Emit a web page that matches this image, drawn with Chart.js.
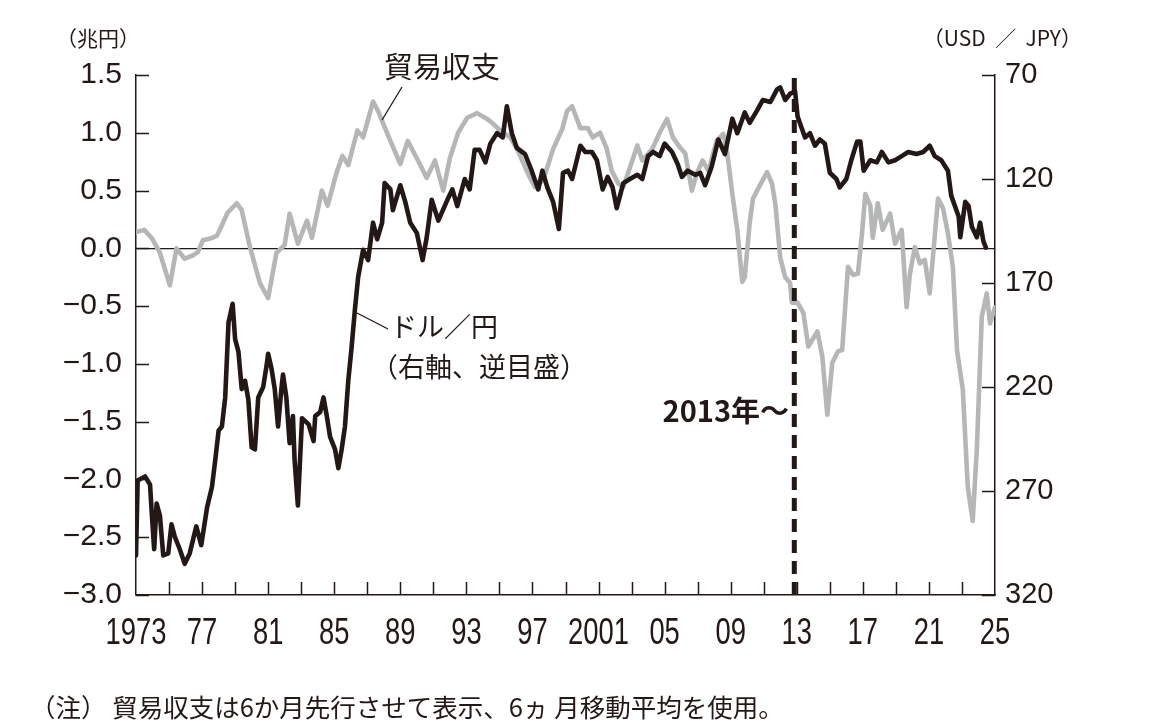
<!DOCTYPE html>
<html lang="ja">
<head>
<meta charset="utf-8">
<title>貿易収支とドル／円</title>
<script src="https://cdn.jsdelivr.net/npm/chart.js@4.4.1/dist/chart.umd.min.js"></script>
<style>
  html, body { margin: 0; padding: 0; background: #ffffff; }
  #wrap { width: 1174px; height: 723px; position: relative; }
</style>
</head>
<body>
<div id="wrap"><canvas id="grafica" width="1174" height="723"></canvas></div>
<script>
// 貿易収支（兆円、6か月先行・6ヵ月移動平均）: 年（小数）と値
const tradeYears = [
  1973.0, 1973.5, 1973.95, 1974.45, 1975.05, 1975.45, 1975.95, 1976.45, 1976.75, 1977.05,
  1977.6, 1977.9, 1978.2, 1978.55, 1979.1, 1979.4, 1979.9, 1980.5, 1981.0, 1981.5,
  1982.0, 1982.3, 1982.8, 1983.35, 1983.65, 1984.25, 1984.6, 1985.15, 1985.5, 1985.85,
  1986.4, 1986.75, 1987.35, 1987.65, 1987.9, 1988.4, 1989.0, 1989.45, 1990.0, 1990.6,
  1991.1, 1991.6, 1992.0, 1992.5, 1993.05, 1993.65, 1994.25, 1994.6, 1995.05, 1995.65,
  1996.1, 1996.65, 1997.15, 1997.65, 1998.25, 1998.8, 1999.1, 1999.4, 1999.9, 2000.35,
  2000.65, 2001.1, 2001.5, 2001.8, 2002.2, 2002.5, 2002.9, 2003.35, 2003.65, 2004.25,
  2004.7, 2005.15, 2005.5, 2005.95, 2006.25, 2006.65, 2006.95, 2007.3, 2007.65, 2008.15,
  2008.55, 2008.75, 2009.1, 2009.4, 2009.7, 2009.85, 2010.15, 2010.35, 2010.75, 2011.2,
  2011.5, 2011.7, 2012.0, 2012.3, 2012.6, 2012.7, 2013.05, 2013.4, 2013.7, 2014.25,
  2014.55, 2014.85, 2015.15, 2015.5, 2015.75, 2016.1, 2016.4, 2016.7, 2016.95, 2017.15,
  2017.45, 2017.6, 2017.9, 2018.2, 2018.65, 2018.95, 2019.35, 2019.65, 2019.85, 2020.15,
  2020.45, 2020.75, 2021.05, 2021.55, 2021.85, 2022.15, 2022.45, 2022.7, 2023.05, 2023.35,
  2023.65, 2023.9, 2024.2, 2024.5, 2024.7, 2025.0
];
const tradeValues = [
  0.14, 0.16, 0.09, -0.04, -0.32, 0.0, -0.09, -0.06, -0.03, 0.07,
  0.09, 0.11, 0.20, 0.31, 0.39, 0.33, 0.01, -0.30, -0.43, -0.04,
  0.03, 0.30, 0.04, 0.24, 0.09, 0.50, 0.37, 0.66, 0.80, 0.72,
  1.02, 0.96, 1.27, 1.19, 1.10, 0.93, 0.73, 0.93, 0.78, 0.61,
  0.76, 0.50, 0.78, 1.00, 1.13, 1.17, 1.12, 1.08, 1.02, 0.96,
  0.85, 0.67, 0.53, 0.59, 0.86, 1.03, 1.19, 1.23, 1.04, 1.04,
  0.96, 1.00, 0.86, 0.67, 0.56, 0.53, 0.70, 0.89, 0.76, 0.86,
  1.00, 1.12, 0.96, 0.87, 0.82, 0.50, 0.65, 0.76, 0.67, 0.93,
  0.99, 0.87, 0.47, 0.16, -0.29, -0.25, 0.22, 0.43, 0.54, 0.66,
  0.56, 0.39, -0.08, -0.25, -0.30, -0.47, -0.47, -0.56, -0.85, -0.72,
  -0.94, -1.44, -0.99, -0.89, -0.88, -0.16, -0.23, -0.22, 0.13, 0.47,
  0.37, 0.09, 0.39, 0.16, 0.30, 0.04, 0.16, -0.51, -0.22, 0.01,
  -0.13, -0.10, -0.39, 0.43, 0.35, 0.13, -0.16, -0.88, -1.22, -2.06,
  -2.36, -1.74, -0.59, -0.39, -0.65, -0.51
];

// ドル／円（右軸、逆目盛）
const fxYears = [
  1973.0, 1973.1, 1973.55, 1973.85, 1973.95, 1974.1, 1974.25, 1974.45, 1974.65, 1974.95,
  1975.15, 1975.35, 1975.65, 1975.95, 1976.25, 1976.65, 1976.95, 1977.3, 1977.6, 1977.8,
  1978.0, 1978.2, 1978.4, 1978.6, 1978.85, 1979.0, 1979.2, 1979.4, 1979.6, 1979.8,
  1980.0, 1980.2, 1980.4, 1980.7, 1980.9, 1981.0, 1981.2, 1981.4, 1981.6, 1981.8,
  1981.9, 1982.1, 1982.3, 1982.5, 1982.6, 1982.8, 1983.05, 1983.45, 1983.75, 1983.85,
  1984.15, 1984.35, 1984.55, 1984.75, 1985.05, 1985.25, 1985.45, 1985.65, 1985.85, 1986.05,
  1986.25, 1986.45, 1986.75, 1987.05, 1987.35, 1987.6, 1987.9, 1988.05, 1988.4, 1988.55,
  1989.0, 1989.3, 1989.6, 1990.0, 1990.35, 1990.6, 1990.9, 1991.3, 1991.85, 1992.15,
  1992.45, 1992.9, 1993.2, 1993.5, 1993.8, 1994.15, 1994.45, 1994.85, 1995.2, 1995.45,
  1995.75, 1996.05, 1996.55, 1996.95, 1997.35, 1997.6, 1997.9, 1998.25, 1998.6, 1998.85,
  1999.15, 1999.4, 1999.9, 2000.2, 2000.6, 2000.9, 2001.25, 2001.55, 2001.85, 2002.1,
  2002.5, 2002.9, 2003.35, 2003.65, 2004.0, 2004.3, 2004.7, 2005.0, 2005.45, 2005.8,
  2006.05, 2006.4, 2006.85, 2007.15, 2007.45, 2007.85, 2008.25, 2008.65, 2009.1, 2009.4,
  2009.85, 2010.15, 2010.6, 2010.95, 2011.4, 2011.8, 2012.0, 2012.3, 2012.6, 2012.9,
  2013.05, 2013.5, 2013.8, 2014.1, 2014.4, 2014.7, 2015.0, 2015.4, 2015.6, 2016.0,
  2016.3, 2016.65, 2016.85, 2017.05, 2017.45, 2017.85, 2018.15, 2018.55, 2018.95, 2019.35,
  2019.75, 2020.25, 2020.65, 2021.05, 2021.35, 2021.75, 2022.15, 2022.35, 2022.8, 2022.9,
  2023.2, 2023.4, 2023.6, 2023.9, 2024.1, 2024.3, 2024.45
];
const fxValues = [
  301, 265, 263, 267, 280, 298, 276, 282, 301, 300,
  286, 292, 298, 305, 300, 287, 296, 278, 268, 255,
  241, 239, 225, 189, 180, 197, 203, 221, 217, 226,
  249, 250, 225, 220, 210, 204, 211, 221, 239, 221,
  214, 225, 247, 234, 255, 277, 235, 238, 246, 234,
  232, 225, 234, 244, 250, 259, 250, 239, 217, 201,
  183, 167, 154, 159, 141, 149, 141, 122, 125, 135,
  123, 131, 141, 146, 159, 148, 130, 140, 130, 125,
  133, 120, 125, 106, 106, 112, 103, 98, 100, 85,
  98, 105, 108, 116, 125, 116, 124, 131, 144, 117,
  116, 120, 104, 107, 107, 111, 125, 119, 124, 134,
  122, 120, 118, 120, 109, 107, 109, 103, 107, 113,
  119, 116, 118, 117, 123, 114, 101, 108, 91, 98,
  88, 93, 87, 82, 83, 77, 76, 82, 79, 78,
  90, 100, 98, 104, 101, 103, 117, 120, 124, 120,
  111, 102, 102, 116, 111, 112, 107, 112, 111, 109,
  107, 108, 107, 104, 109, 111, 116, 128, 138, 148,
  131, 133, 143, 148, 141, 150, 153
];

// 目盛り
const xTickYears = [];
for (let y = 1973; y <= 2025; y += 2) xTickYears.push(y);
const xLabelYears = [1973, 1977, 1981, 1985, 1989, 1993, 1997, 2001, 2005, 2009, 2013, 2017, 2021, 2025];
const xLabelTexts = ['1973', '77', '81', '85', '89', '93', '97', '2001', '05', '09', '13', '17', '21', '25'];
const markerYear = 2012.85; // 2013年〜 の破線

const NEGRO = '#231815';
const GRIS = '#b5b6b6';
const SANS = '"Liberation Sans", "DejaVu Sans", sans-serif';
const JP = '"Noto Sans CJK JP", "Noto Sans", sans-serif';

// 軸の内向き目盛り線
const innerTicks = {
    id: 'innerTicks',
    beforeDatasetsDraw(chart) {
        const { ctx, chartArea: a, scales } = chart;
        const len = 13;
        ctx.save();
        ctx.strokeStyle = NEGRO;
        ctx.lineWidth = 1.5;
        ctx.beginPath();
        scales.y.ticks.forEach(t => {
            const py = Math.round(scales.y.getPixelForValue(t.value)) + 0.5;
            ctx.moveTo(a.left, py); ctx.lineTo(a.left + len, py);
        });
        scales.y2.ticks.forEach(t => {
            const py = Math.round(scales.y2.getPixelForValue(t.value)) + 0.5;
            ctx.moveTo(a.right, py); ctx.lineTo(a.right - len, py);
        });
        scales.x.ticks.forEach(t => {
            if (t.value === 1973 || t.value === 2025) return;
            const px = Math.round(scales.x.getPixelForValue(t.value)) + 0.5;
            ctx.moveTo(px, a.bottom); ctx.lineTo(px, a.bottom - len);
        });
        ctx.stroke();
        ctx.restore();
    }
};

// 年ラベル（長体）
const yearLabels = {
    id: 'yearLabels',
    afterDraw(chart) {
        const { ctx, scales } = chart;
        ctx.save();
        ctx.fillStyle = NEGRO;
        ctx.font = '37px ' + SANS;
        ctx.textAlign = 'center';
        ctx.textBaseline = 'middle';
        xLabelYears.forEach((yr, i) => {
            const px = scales.x.getPixelForValue(yr);
            ctx.save();
            ctx.translate(px, 634);
            ctx.scale(0.74, 1);
            ctx.fillText(xLabelTexts[i], 0, 0);
            ctx.restore();
        });
        ctx.restore();
    }
};

// 注記・単位・引き出し線
const notas = {
    id: 'notas',
    afterDraw(chart) {
        const { ctx } = chart;
        ctx.save();
        ctx.fillStyle = NEGRO;
        ctx.strokeStyle = NEGRO;
        ctx.textBaseline = 'middle';

        ctx.font = '21px ' + JP;
        ctx.textAlign = 'left';
        ctx.fillText('（兆円）', 56, 38);
        ctx.textAlign = 'right';
        ctx.fillText('（USD  ／  JPY）', 1082, 38);

        ctx.textAlign = 'left';
        ctx.font = '29px ' + JP;
        ctx.fillText('貿易収支', 384, 67);

        ctx.font = '27px ' + JP;
        ctx.fillText('ドル／円', 390, 327);
        ctx.fillText('（右軸、逆目盛）', 371, 367);

        ctx.font = 'bold 29px ' + JP;
        ctx.textAlign = 'right';
        ctx.fillText('2013年〜', 789, 411);

        ctx.lineWidth = 1.3;
        ctx.beginPath();
        ctx.moveTo(402, 87); ctx.lineTo(382, 120);
        ctx.moveTo(357, 313); ctx.lineTo(388, 329);
        ctx.stroke();

        ctx.textAlign = 'left';
        ctx.font = '25.5px ' + JP;
        ctx.fillText('（注） 貿易収支は6か月先行させて表示、6ヵ 月移動平均を使用。', 30, 707);
        ctx.restore();
    }
};

const ctx = document.getElementById('grafica').getContext('2d');
new Chart(ctx, {
    type: 'line',
    data: {
        datasets: [
            {
                label: '2013年〜',
                data: [{ x: markerYear, y: -3.0 }, { x: markerYear, y: 1.5 }],
                yAxisID: 'y',
                borderColor: NEGRO,
                borderWidth: 5,
                borderDash: [13, 8],
                borderCapStyle: 'butt',
                order: 0
            },
            {
                label: 'ドル／円',
                data: fxYears.map((x, i) => ({ x: x, y: fxValues[i] })),
                yAxisID: 'y2',
                borderColor: NEGRO,
                borderWidth: 4.6,
                order: 1
            },
            {
                label: '貿易収支',
                data: tradeYears.map((x, i) => ({ x: x, y: tradeValues[i] })),
                yAxisID: 'y',
                borderColor: GRIS,
                borderWidth: 4.6,
                order: 2
            }
        ]
    },
    options: {
        responsive: false,
        animation: false,
        layout: { padding: { top: 75, left: 0, right: 0, bottom: 0 } },
        elements: {
            point: { radius: 0 },
            line: { tension: 0, borderJoinStyle: 'round', borderCapStyle: 'round' }
        },
        plugins: {
            legend: { display: false },
            tooltip: { enabled: false }
        },
        scales: {
            x: {
                type: 'linear',
                min: 1973,
                max: 2025,
                afterBuildTicks: s => { s.ticks = xTickYears.map(v => ({ value: v })); },
                afterFit: s => { s.height = 128; },
                grid: { drawOnChartArea: false, drawTicks: false },
                border: { display: true, color: NEGRO, width: 1.5 },
                ticks: { display: false }
            },
            y: {
                position: 'left',
                min: -3.0,
                max: 1.5,
                afterFit: s => { s.width = 136; },
                grid: {
                    drawTicks: false,
                    lineWidth: 1.3,
                    color: c => (c.tick && Math.abs(c.tick.value) < 1e-9) ? NEGRO : 'rgba(0,0,0,0)'
                },
                border: { display: true, color: NEGRO, width: 1.5 },
                ticks: {
                    stepSize: 0.5,
                    padding: 14,
                    color: NEGRO,
                    font: { family: SANS, size: 30 },
                    callback: v => v.toFixed(1).replace('-', '−').replace('−0.0', '0.0')
                }
            },
            y2: {
                position: 'right',
                reverse: true,
                min: 70,
                max: 320,
                afterFit: s => { s.width = 179; },
                grid: { display: false, drawTicks: false },
                border: { display: true, color: NEGRO, width: 1.5 },
                ticks: {
                    stepSize: 50,
                    padding: 10,
                    color: NEGRO,
                    font: { family: SANS, size: 29 }
                }
            }
        }
    },
    plugins: [innerTicks, yearLabels, notas]
});
</script>
</body>
</html>
